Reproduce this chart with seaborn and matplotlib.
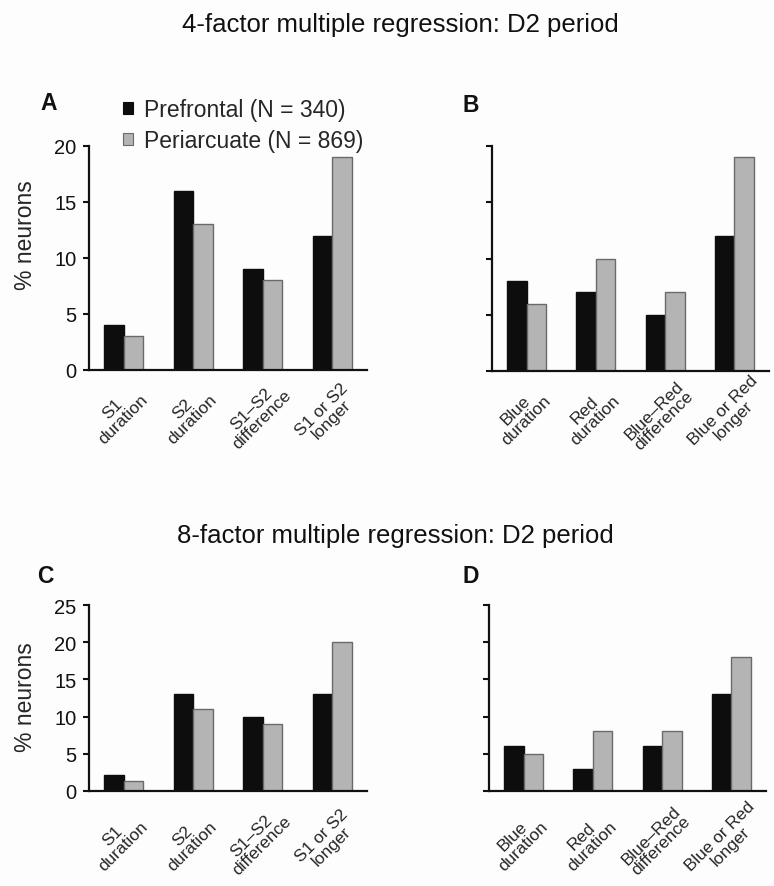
import numpy as np
import pandas as pd
import matplotlib
matplotlib.use("Agg")
import matplotlib.pyplot as plt
import matplotlib.transforms as mtransforms
import seaborn as sns
from matplotlib.patches import Patch

# ---------------- data ----------------
regions = ["Prefrontal (N = 340)", "Periarcuate (N = 869)"]
cats_s = ["S1\nduration", "S2\nduration", "S1\u2013S2\ndifference", "S1 or S2\nlonger"]
cats_c = ["Blue\nduration", "Red\nduration", "Blue\u2013Red\ndifference", "Blue or Red\nlonger"]

a_pref = [4, 16, 9, 12]
a_peri = [3, 13, 8, 19]
b_pref = [8, 7, 5, 12]
b_peri = [6, 10, 7, 19]
c_pref = [2.2, 13, 10, 13]
c_peri = [1.3, 11, 9, 20]
d_pref = [6, 3, 6, 13]
d_peri = [5, 8, 8, 18]

title_4 = "4-factor multiple regression: D2 period"
title_8 = "8-factor multiple regression: D2 period"
ylabel = "% neurons"
yticks_top = [0, 5, 10, 15, 20]
yticks_bot = [0, 5, 10, 15, 20, 25]

# ---------------- style ----------------
sns.set_theme(style="ticks")
plt.rcParams["font.family"] = ["Liberation Sans", "DejaVu Sans"]

W, H = 774, 887
BLACK = "#0d0d0d"
GRAY = "#b5b4b4"
GRAY_EDGE = "#6a6a6a"

fig = plt.figure(figsize=(W / 100, H / 100), dpi=100)
fig.patch.set_facecolor("#fdfdfd")


def px_rect(l, t, r, b):
    return [l / W, 1 - b / H, (r - l) / W, (b - t) / H]


def make_df(cats, pref, peri):
    rows = []
    for c, v in zip(cats, pref):
        rows.append({"category": c, "region": regions[0], "value": v})
    for c, v in zip(cats, peri):
        rows.append({"category": c, "region": regions[1], "value": v})
    return pd.DataFrame(rows)


def panel(rect, cats, pref, peri, yticks, show_labels, xpad):
    ax = fig.add_axes(px_rect(*rect))
    ax.set_facecolor("none")
    df = make_df(cats, pref, peri)
    sns.barplot(data=df, x="category", y="value", hue="region", order=cats,
                hue_order=regions, palette=[BLACK, GRAY], width=0.56,
                saturation=1, legend=False, ax=ax, linewidth=1.0,
                edgecolor=BLACK, errorbar=None)
    for p in ax.containers[1]:
        p.set_edgecolor(GRAY_EDGE)
    ax.set_xlim(-0.5, 3.5)
    ax.set_ylim(0, yticks[-1])
    ax.set_yticks(yticks)
    if not show_labels:
        ax.set_yticklabels([])
    ax.set_xlabel("")
    ax.set_ylabel("")
    for s in ["top", "right"]:
        ax.spines[s].set_visible(False)
    for s in ["left", "bottom"]:
        ax.spines[s].set_linewidth(1.6)
        ax.spines[s].set_color("#111111")
    ax.tick_params(axis="y", direction="out", length=4, width=1.5,
                   labelsize=14.5, pad=5, colors="#111111")
    ax.tick_params(axis="x", length=0, pad=xpad, labelsize=12.4)
    offset = mtransforms.ScaledTranslation(-6 / 100, 0, fig.dpi_scale_trans)
    for t in ax.get_xticklabels():
        t.set_rotation(45)
        t.set_ha("center")
        t.set_va("center")
        t.set_rotation_mode("anchor")
        t.set_multialignment("center")
        t.set_linespacing(0.95)
        t.set_transform(t.get_transform() + offset)
    return ax


axA = panel((89, 147, 367, 371), cats_s, a_pref, a_peri, yticks_top, True, 31.5)
axB = panel((492, 147, 769, 372), cats_c, b_pref, b_peri, yticks_top, False, 31.5)
axC = panel((89, 606, 367, 792), cats_s, c_pref, c_peri, yticks_bot, True, 35.5)
axD = panel((489, 606, 766, 792), cats_c, d_pref, d_peri, yticks_bot, False, 35.5)

axA.set_ylabel(ylabel, fontsize=16.5)
axA.yaxis.set_label_coords(-0.187, 0.607)
axC.set_ylabel(ylabel, fontsize=16.5)
axC.yaxis.set_label_coords(-0.187, 0.51)

# legend
handles = [Patch(facecolor=BLACK, edgecolor=BLACK, linewidth=0.8),
           Patch(facecolor=GRAY, edgecolor=GRAY_EDGE, linewidth=0.8)]
axA.legend(handles, regions, loc="upper left",
           bbox_to_anchor=(123 / W, 1 - 99 / H), bbox_transform=fig.transFigure,
           frameon=False, fontsize=16.5, handlelength=0.45, handleheight=0.45,
           handletextpad=0.45, labelspacing=0.35, borderpad=0, borderaxespad=0)

# titles
fig.text(400 / W, 1 - 31.7 / H, title_4, ha="center", va="baseline",
         fontsize=18.5, color="#111111")
fig.text(395 / W, 1 - 543 / H, title_8, ha="center", va="baseline",
         fontsize=18.5, color="#111111")

# panel letters
for letter, x, yb in [("A", 40, 110), ("B", 463, 112), ("C", 37, 583), ("D", 463, 583)]:
    fig.text(x / W, 1 - yb / H, letter, ha="left", va="baseline",
             fontsize=16.5, fontweight="bold", color="#111111")

fig.savefig("out.png", dpi=100, facecolor=fig.get_facecolor())
